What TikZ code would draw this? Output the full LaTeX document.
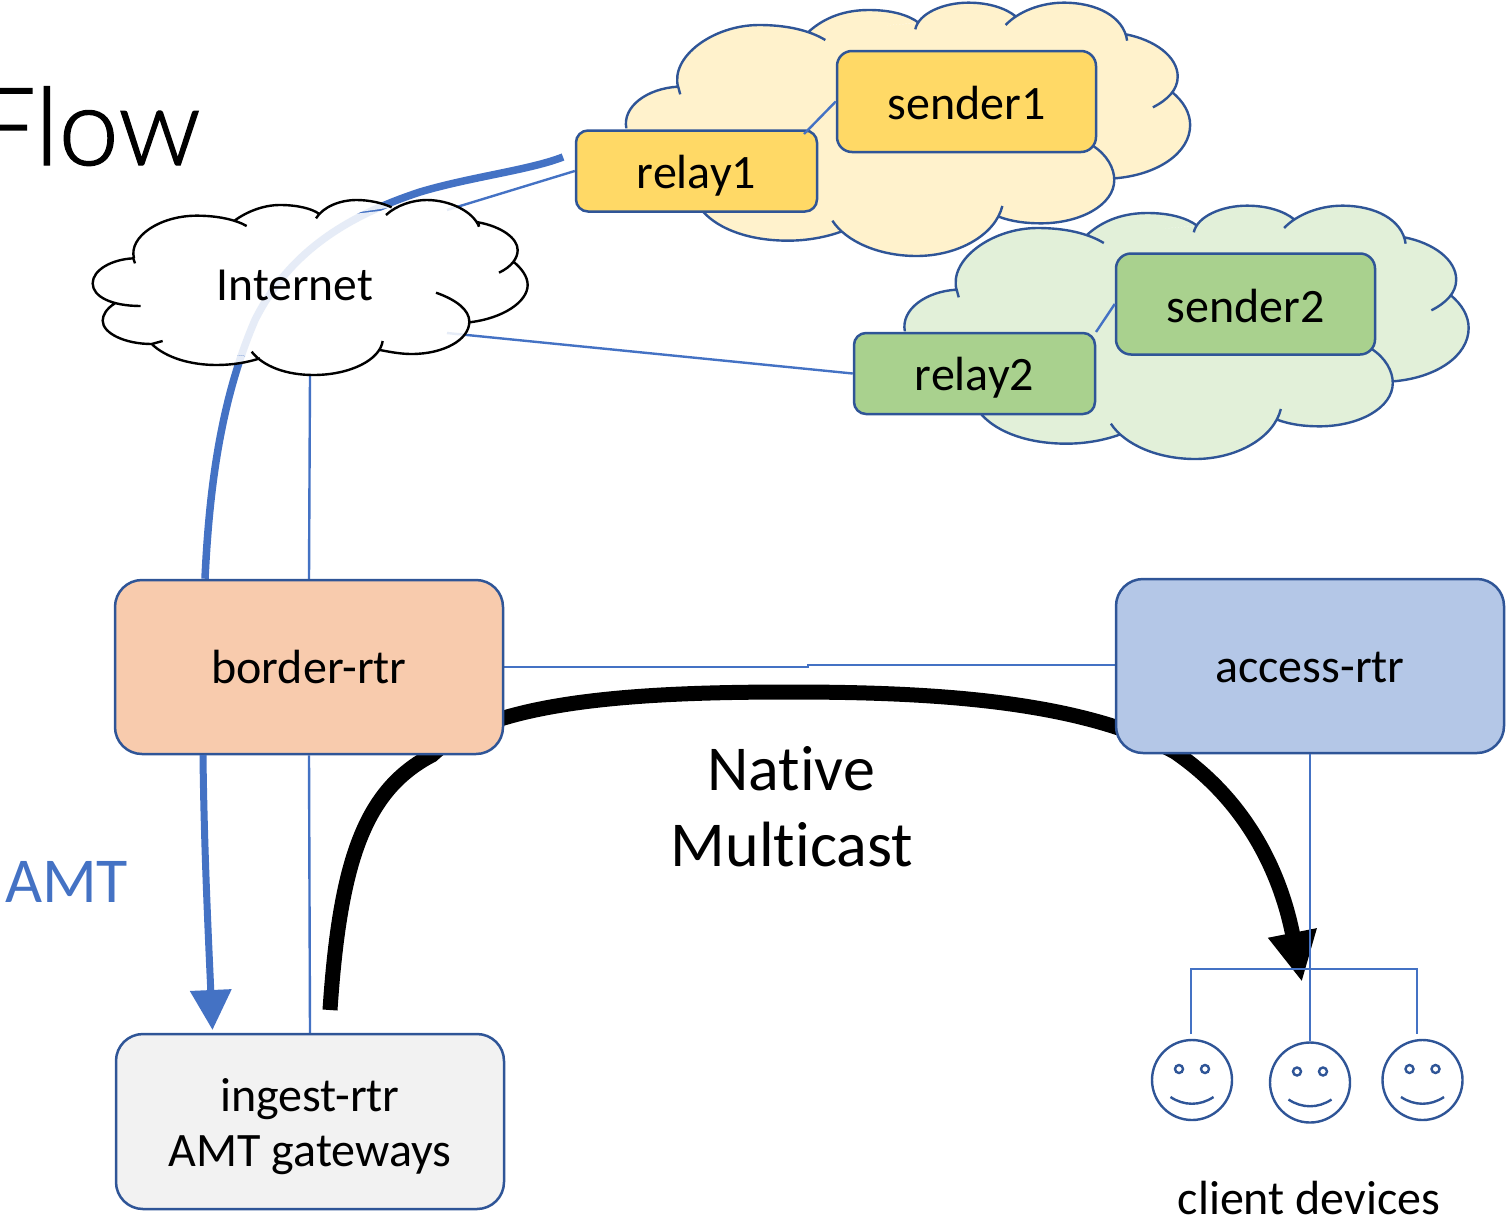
\documentclass[tikz,border=0pt]{standalone}
\usepackage{fontspec}
\setmainfont[RawFeature=-liga]{Carlito}
\newfontfamily\lightfont[UprightFont=* Light,FakeBold=1.2,AutoFakeBold=false]{Lato}
\usetikzlibrary{arrows.meta}
\pgfdeclarelayer{backlayer}
\pgfdeclarelayer{midlayer}
\pgfsetlayers{backlayer,midlayer,main}
\definecolor{edgeblue}{HTML}{2F5597}
\definecolor{lineblue}{HTML}{4472C4}
\definecolor{yellowbox}{HTML}{FFD966}
\definecolor{yellowcloud}{HTML}{FFF2CC}
\definecolor{greenbox}{HTML}{A9D18E}
\definecolor{greencloud}{HTML}{E2F0D9}
\definecolor{orangebox}{HTML}{F8CBAD}
\definecolor{bluebox}{HTML}{B4C7E7}
\definecolor{greybox}{HTML}{F2F2F2}
\newcommand{\fsz}[1]{\fontsize{#1pt}{#1pt}\selectfont}
\newcommand{\senderlobes}{
 (160,385) .. controls (150,320) and (210,265) .. (285,260) -- (290,283)
 (285,262) .. controls (265,170) and (370,75) .. (480,75) .. controls (545,75) and (600,90) .. (640,120)
 (600,95) .. controls (640,50) and (690,30) .. (745,30) .. controls (800,30) and (840,45) .. (865,68)
 (857,88) .. controls (865,40) and (925,8) .. (985,8) .. controls (1035,8) and (1075,25) .. (1098,48)
 (1075,75) .. controls (1105,35) and (1160,8) .. (1215,8) .. controls (1295,8) and (1360,50) .. (1368,122)
 (1365,103) .. controls (1435,120) and (1490,170) .. (1490,230) .. controls (1490,270) and (1465,300) .. (1430,322)
 (1475,275) .. controls (1505,305) and (1520,340) .. (1520,375) .. controls (1520,460) and (1440,525) .. (1338,535)
 (1285,437) .. controls (1320,465) and (1337,505) .. (1337,540) .. controls (1337,615) and (1255,670) .. (1160,670) .. controls (1125,670) and (1090,665) .. (1058,650)
 (1067,618) .. controls (1050,705) and (960,768) .. (860,768) .. controls (770,768) and (690,725) .. (657,662)
 (678,695) .. controls (640,712) and (595,722) .. (550,722) .. controls (460,722) and (385,690) .. (345,635)
}
\newcommand{\sendercloud}[3]{
 \begin{scope}[shift={(#1,#2)},x=0.41457pt,y=-0.33333pt,line width=2.4pt,edgeblue]
  \fill[#3] (160,385) -- (285,262) -- (600,95) -- (857,70) -- (1085,48) -- (1365,103) -- (1475,275) -- (1338,535) -- (1058,650) -- (678,695) -- (345,635) -- cycle
   \senderlobes;
  \draw \senderlobes;
 \end{scope}
}
\newcommand{\inetlobes}{
 (182,348) .. controls (95,348) and (38,320) .. (38,280) .. controls (38,240) and (95,208) .. (160,205) -- (165,220)
 (105,340) .. controls (80,355) and (68,375) .. (68,392) .. controls (68,430) and (135,462) .. (215,462) -- (248,453)
 (215,462) .. controls (260,505) and (335,525) .. (410,525) .. controls (455,525) and (500,518) .. (540,505)
 (515,485) .. controls (550,530) and (620,555) .. (700,555) .. controls (810,555) and (900,510) .. (908,453)
 (900,480) .. controls (935,487) and (965,492) .. (995,492) .. controls (1090,492) and (1168,450) .. (1168,395) .. controls (1168,360) and (1130,330) .. (1068,308)
 (1168,397) .. controls (1270,385) and (1343,335) .. (1343,285) .. controls (1343,260) and (1325,235) .. (1300,215)
 (1257,248) .. controls (1295,230) and (1313,205) .. (1313,180) .. controls (1313,145) and (1265,110) .. (1195,97) -- (1197,110)
 (1197,110) .. controls (1180,65) and (1110,30) .. (1040,30) .. controls (1000,30) and (950,45) .. (918,75)
 (708,85) .. controls (730,50) and (780,30) .. (830,30) .. controls (870,30) and (910,40) .. (935,52)
 (462,93) .. controls (500,65) and (550,45) .. (600,45) .. controls (650,45) and (695,55) .. (718,72)
 (162,205) .. controls (145,140) and (240,77) .. (350,77) .. controls (410,77) and (465,88) .. (500,108)
}
\newcommand{\smiley}[3]{
 \begin{scope}[shift={(#1,#2)}]
  \node[faceshape] (#3) at (0,0) {};
  \draw[faceline] (-13,-11) circle (4);
  \draw[faceline] (13,-11) circle (4);
  \draw[faceline] (-21.5,17) .. controls (-8,26) and (8,26) .. (21.5,17);
 \end{scope}
}
\tikzset{
 boxbase/.style={draw=edgeblue,line width=2.5pt,inner sep=0pt,align=center,font=\fsz{48},text depth=0pt},
 smallbox/.style={boxbase,rounded corners=12pt,minimum width=241pt,minimum height=81pt,text height=34pt},
 senderbox/.style={boxbase,rounded corners=15pt,minimum width=259pt,minimum height=101pt,text height=36pt},
 bigbox/.style={boxbase,rounded corners=27pt,minimum width=388pt,minimum height=174pt,text height=33pt},
 thinline/.style={lineblue,line width=2.4pt},
 faceline/.style={edgeblue,line width=2.4pt},
 faceshape/.style={circle,draw=edgeblue,line width=2.4pt,minimum size=80pt,inner sep=0pt},
 label/.style={inner sep=0pt,align=center},
}
\begin{document}
\begin{tikzpicture}[x=1pt,y=-1pt]
\useasboundingbox (0,0) rectangle (1506,1221);
\begin{scope}
\clip (0,0) rectangle (1506,1221);
\node[anchor=base east,inner sep=0pt,font=\lightfont\fsz{108},text=black] (flow) at (201,165) {Flow};
\end{scope}
% boxes
\node[smallbox,fill=yellowbox] (relay1) at (696.5,171) {relay1};
\node[senderbox,fill=yellowbox] (sender1) at (966.5,101.5) {sender1};
\node[smallbox,fill=greenbox] (relay2) at (974.5,373.5) {relay2};
\node[senderbox,fill=greenbox] (sender2) at (1245.5,304) {sender2};
\node[bigbox,fill=orangebox] (border) at (309,667) {border-rtr};
\node[bigbox,fill=bluebox] (access) at (1310,666) {access-rtr};
\node[bigbox,fill=greybox,minimum height=175pt] (ingest) at (310,1121.5) {};
\node[label,anchor=base,font=\fsz{48}] (ingestA) at (310,1111) {ingest-rtr};
\node[label,anchor=base,font=\fsz{48}] (ingestB) at (310,1166) {AMT gateways};
\begin{pgfonlayer}{backlayer}
 \sendercloud{560}{0}{yellowcloud}
 \sendercloud{838.5}{203}{greencloud}
 \coordinate (blackstart) at (330,1010);
 \coordinate (blacktip) at (1302,982);
 \draw[black,line width=15pt,-{Triangle[length=50pt,width=46pt]}] (blackstart) .. controls (340,860) and (365,790) .. (432,755)
   .. controls (490,700) and (640,692) .. (790,692) .. controls (930,692) and (1080,700) .. (1175,752)
   .. controls (1245,800) and (1280,870) .. (blacktip);
 \coordinate (inetA) at (447,210);
 \coordinate (inetB) at (447,333);
 \coordinate (inetC) at (310,376);
 \coordinate (thickend) at (563,157);
 \draw[thinline] (relay1.west) -- (inetA);
 \draw[thinline] (relay2.west) -- (inetB);
 \draw[thinline] (border.north) -- (inetC);
 \draw[lineblue,line width=7.5pt] (border.north west -| 205,580) .. controls (210,470) and (225,390) .. (255,320) .. controls (290,250) and (350,215) .. (420,192) .. controls (470,177) and (530,170) .. (thickend);
 \coordinate (midA) at (808,667);
 \coordinate (midB) at (808,665);
 \draw[thinline] (border.east) -- (midA) -- (midB) -- (midB -| access.west);
 \draw[thinline] (border.south) -- (ingest.north);
\end{pgfonlayer}
\begin{pgfonlayer}{midlayer}
 \begin{scope}[shift={(80,190)},x=0.33333pt,y=-0.33333pt,line width=2.4pt]
  \fill[white,fill opacity=0.87] (105,340) -- (162,205) -- (462,93) -- (708,85) -- (925,60) -- (1197,100) -- (1300,215) -- (1168,397) -- (900,480) -- (515,500) -- (215,462) -- cycle
   \inetlobes;
  \draw[black] \inetlobes;
 \end{scope}
\end{pgfonlayer}
\node[label,anchor=base,font=\fsz{47.5}] (inet) at (295,300) {Internet};
% diagonal connectors
\coordinate (r1c) at (804,134);
\coordinate (r2c) at (1096,332);
\draw[thinline] (sender1.west) -- (r1c);
\draw[thinline] (sender2.west) -- (r2c);
% AMT arrow
\coordinate (amtstart) at (203,755);
\coordinate (amttip) at (212.5,1030);
\draw[lineblue,line width=7pt,-{Triangle[length=40pt,width=40pt]}] (amtstart) .. controls (204,850) and (209,950) .. (amttip);
\node[label,anchor=base west,font=\fsz{64},text=lineblue] (amt) at (5,902) {AMT};
\node[label,anchor=base,font=\fsz{64}] (native) at (791,790) {Native};
\node[label,anchor=base,font=\fsz{64}] (multicast) at (792,866) {Multicast};
% faces
\smiley{1192}{1080}{faceA}
\smiley{1310}{1082.5}{faceB}
\smiley{1422.5}{1080}{faceC}
\coordinate (busL) at (1191,969);
\coordinate (busR) at (1417,969);
\coordinate (stubL) at (1191,1034);
\coordinate (stubR) at (1417,1034);
\draw[thinline] (stubL) -- (busL) -- (busR) -- (stubR);
\draw[thinline] (access.south) -- (faceB.north);
\node[label,anchor=base,font=\fsz{48},text depth=0pt] (clients) at (1309,1214) {client devices};
\end{tikzpicture}
\end{document}
